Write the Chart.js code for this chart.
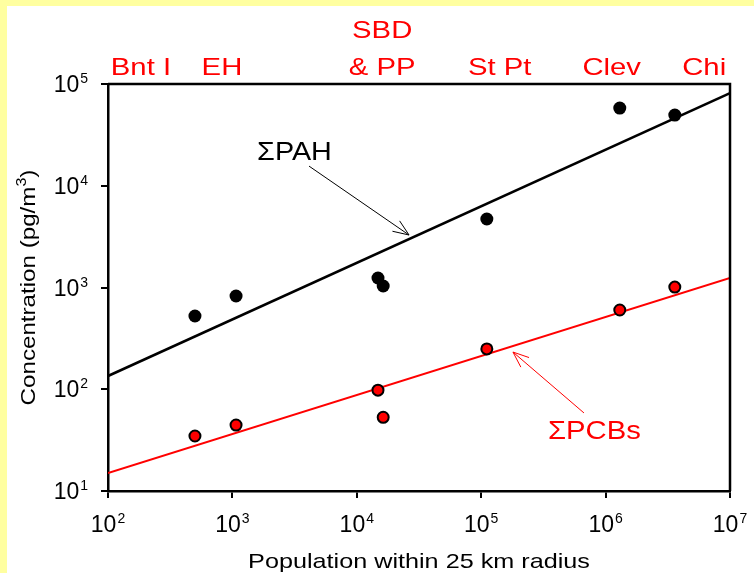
<!DOCTYPE html>
<html>
<head>
<meta charset="utf-8">
<script src="https://cdn.jsdelivr.net/npm/chart.js@4"></script>
<style>
  body { margin: 0; background: #fff; }
  canvas { display: block; }
</style>
</head>
<body>
<canvas id="chart" width="754" height="573"></canvas>
<script>
// data -----------------------------------------
const population = [500, 1070, 14800, 16300, 111000, 1300000, 3600000];
const pahConc = [525, 825, 1240, 1035, 4710, 58000, 49500];
const pcbConc = [34.7, 44.5, 98, 53, 249, 601, 1010];

// regression lines (end points)
const fitPop = [100, 1e7];
const pahFit = [135, 81500];
const pcbFit = [15, 1240];

// tick labels (decades)
const xTicks = [1e2, 1e3, 1e4, 1e5, 1e6, 1e7];
const yTicks = [1e1, 1e2, 1e3, 1e4, 1e5];

// site names along the top
const siteNames = [["Bnt I"], ["EH"], ["SBD", "& PP"], ["St Pt"], ["Clev"], ["Chi"]];
const sitePop = [184, 824, 16000, 141000, 1120000, 6200000];

const FONT = '"Liberation Sans", Arial, sans-serif';

function txt(ctx, s, x, y, size, color, align, hs) {
  ctx.save();
  ctx.font = size + 'px ' + FONT;
  ctx.fillStyle = color;
  ctx.textBaseline = 'alphabetic';
  ctx.translate(x, y);
  ctx.scale(hs, 1);
  const w = ctx.measureText(s).width;
  const dx = align === 'center' ? -w / 2 : align === 'right' ? -w : 0;
  ctx.fillText(s, dx, 0);
  ctx.restore();
  return w * hs;
}

function width(ctx, s, size, hs) {
  ctx.save();
  ctx.font = size + 'px ' + FONT;
  const w = ctx.measureText(s).width * hs;
  ctx.restore();
  return w;
}

function arrow(ctx, x1, y1, x2, y2, color) {
  const a = Math.atan2(y2 - y1, x2 - x1);
  const len = 17, spread = 0.38;
  ctx.save();
  ctx.strokeStyle = color;
  ctx.lineWidth = 1;
  ctx.beginPath();
  ctx.moveTo(x1, y1);
  ctx.lineTo(x2, y2);
  ctx.moveTo(x2 - len * Math.cos(a - spread), y2 - len * Math.sin(a - spread));
  ctx.lineTo(x2, y2);
  ctx.lineTo(x2 - len * Math.cos(a + spread), y2 - len * Math.sin(a + spread));
  ctx.stroke();
  ctx.restore();
}

// power-of-ten label: "10" with a raised exponent
function pow10(ctx, v, x, y, align) {
  const e = String(Math.round(Math.log10(v)));
  const wb = width(ctx, '10', 23, 1);
  const we = width(ctx, e, 14, 1);
  let left = x;
  if (align === 'center') left = x - (wb + we + 1) / 2;
  if (align === 'right') left = x - (wb + we + 1);
  txt(ctx, '10', left, y, 23, '#000', 'left', 1);
  txt(ctx, e, left + wb + 1, y - 9, 14, '#000', 'left', 1);
}

const decorations = {
  id: 'decorations',
  beforeDraw(chart) {
    const ctx = chart.ctx;
    ctx.save();
    ctx.fillStyle = '#fff';
    ctx.fillRect(0, 0, chart.width, chart.height);
    ctx.fillStyle = '#ffffa0';
    ctx.fillRect(0, 0, chart.width, 6);
    ctx.fillRect(0, 0, 7, chart.height);
    ctx.restore();
  },
  afterDraw(chart) {
    const ctx = chart.ctx;
    const xs = chart.scales.x, ys = chart.scales.y;
    const area = chart.chartArea;

    // top and right frame
    ctx.save();
    ctx.strokeStyle = '#000';
    ctx.lineWidth = 2.5;
    ctx.beginPath();
    ctx.moveTo(area.left, area.top);
    ctx.lineTo(area.right, area.top);
    ctx.lineTo(area.right, area.bottom);
    ctx.stroke();
    ctx.restore();

    // tick labels
    xTicks.forEach(v => pow10(ctx, v, xs.getPixelForValue(v), area.bottom + 41, 'center'));
    yTicks.forEach(v => pow10(ctx, v, area.left - 20, ys.getPixelForValue(v) + 8, 'right'));

    // axis titles
    txt(ctx, 'Population within 25 km radius', (area.left + area.right) / 2, 568, 21, '#000', 'center', 1.2);
    ctx.save();
    ctx.translate(35, (area.top + area.bottom) / 2);
    ctx.rotate(-Math.PI / 2);
    const main = 'Concentration (pg/m';
    const wm = width(ctx, main, 21, 1.15);
    const w3 = width(ctx, '3', 14, 1.15);
    const wp = width(ctx, ')', 21, 1.15);
    let sx = -(wm + w3 + wp) / 2;
    txt(ctx, main, sx, 0, 21, '#000', 'left', 1.15);
    txt(ctx, '3', sx + wm, -9, 14, '#000', 'left', 1.15);
    txt(ctx, ')', sx + wm + w3, 0, 21, '#000', 'left', 1.15);
    ctx.restore();

    // site names
    siteNames.forEach((lines, i) => {
      const x = xs.getPixelForValue(sitePop[i]);
      lines.slice().reverse().forEach((s, j) => {
        txt(ctx, s, x, area.top - 9 - j * 37, 24, '#ff0000', 'center', 1.22);
      });
    });

    // series labels with arrows
    txt(ctx, '\u03A3PAH', xs.getPixelForValue(1580), ys.getPixelForValue(17900), 25, '#000', 'left', 1.15);
    arrow(ctx, xs.getPixelForValue(4130), ys.getPixelForValue(15600),
      xs.getPixelForValue(26300), ys.getPixelForValue(3280), '#000');
    txt(ctx, '\u03A3PCBs', xs.getPixelForValue(344000), ys.getPixelForValue(32.4), 25, '#ff0000', 'left', 1.17);
    arrow(ctx, xs.getPixelForValue(670000), ys.getPixelForValue(58.5),
      xs.getPixelForValue(180000), ys.getPixelForValue(232), '#ff0000');
  }
};

function axis(min, max, values, fit) {
  return {
    type: 'logarithmic',
    min: min,
    max: max,
    afterBuildTicks: s => { s.ticks = values.map(v => ({ value: v })); },
    afterFit: fit,
    ticks: { callback: () => '', autoSkip: false, maxRotation: 0 },
    grid: { drawOnChartArea: false, drawTicks: true, tickLength: 7, color: '#000', lineWidth: 2 },
    border: { display: true, color: '#000', width: 2.5 }
  };
}

const pts = (xs, ys) => xs.map((x, i) => ({ x: x, y: ys[i] }));

new Chart(document.getElementById('chart'), {
  type: 'scatter',
  data: {
    datasets: [
      {
        label: 'ΣPAH',
        data: pts(population, pahConc),
        backgroundColor: '#000',
        borderColor: '#000',
        borderWidth: 0,
        pointRadius: 6.5,
        order: 0
      },
      {
        label: 'ΣPCBs',
        data: pts(population, pcbConc),
        backgroundColor: '#ff0000',
        borderColor: '#000',
        borderWidth: 2,
        pointRadius: 5.5,
        order: 0
      },
      {
        label: 'ΣPAH fit',
        data: pts(fitPop, pahFit),
        showLine: true,
        borderColor: '#000',
        borderWidth: 2.5,
        pointRadius: 0,
        order: 1
      },
      {
        label: 'ΣPCBs fit',
        data: pts(fitPop, pcbFit),
        showLine: true,
        borderColor: '#ff0000',
        borderWidth: 2,
        pointRadius: 0,
        order: 1
      }
    ]
  },
  options: {
    responsive: false,
    animation: false,
    events: [],
    layout: { padding: { top: 84, left: 7, right: 24, bottom: 0 } },
    plugins: { legend: { display: false }, tooltip: { enabled: false } },
    scales: {
      x: axis(100, 1e7, xTicks, s => { s.height = 82; }),
      y: axis(10, 1e5, yTicks, s => { s.width = 101; })
    }
  },
  plugins: [decorations]
});
</script>
</body>
</html>
